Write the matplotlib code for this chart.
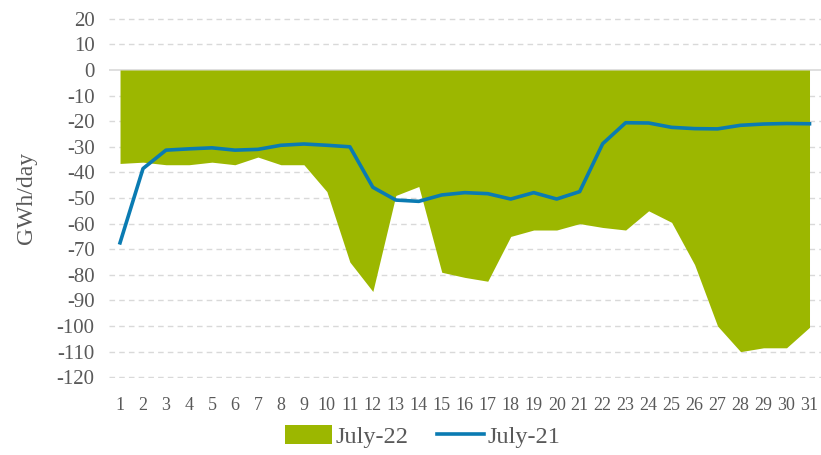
import numpy as np
import matplotlib.pyplot as plt
from matplotlib.patches import Patch
from matplotlib.lines import Line2D

# --- Data (GWh/day) ---
days = list(range(1, 32))
july22 = [-36.5, -36, -37, -37, -36, -37, -34, -37, -37, -47.5,
          -75, -86.5, -49, -45.5, -79, -81, -82.5, -65, -62.5, -62.5,
          -60, -61.5, -62.5, -55, -59.5, -76, -100, -110, -108.5, -108.5,
          -100.5]
july21 = [-67.5, -38.5, -31.3, -30.8, -30.4, -31.3, -31, -29.4, -28.9, -29.4,
          -30, -45.8, -50.8, -51.3, -48.8, -47.9, -48.3, -50.4, -47.9, -50.4,
          -47.5, -28.8, -20.6, -20.7, -22.4, -22.9, -23, -21.6, -21.1, -20.9,
          -21]
yticks = list(range(-120, 30, 10))

green = '#9cb700'
blue = '#0a7bb2'
grey = '#595959'

plt.rcParams['font.family'] = ['Liberation Serif', 'DejaVu Serif']
plt.rcParams['axes.unicode_minus'] = False

fig = plt.figure(figsize=(8.21, 4.55), dpi=100)
ax = fig.add_axes([0.1322, 0.1692, 0.8678, 0.7912])

ax.fill_between(days, july22, 0, color=green, linewidth=0, zorder=2)
ax.plot(days, july21, color=blue, linewidth=2.6, zorder=3)

# grid and zero line
for y in yticks:
    if y == 0:
        continue
    ax.axhline(y, color='#d9d9d9', linestyle=(0, (4, 3)), linewidth=1, zorder=1)
ax.axhline(0, color='#d9d9d9', linewidth=1.2, zorder=1)

ax.set_xlim(0.5, 31.5)
ax.set_ylim(-120.3, 20.3)
ax.set_xticks(days)
ax.set_yticks(yticks)
ax.tick_params(axis='both', length=0, colors=grey)
ax.tick_params(axis='x', labelsize=13, pad=14)
ax.tick_params(axis='y', labelsize=15, pad=10)
for s in ax.spines.values():
    s.set_visible(False)

ax.set_ylabel('GWh/day', fontsize=17, color=grey, labelpad=14)

handles = [Patch(facecolor=green, edgecolor='none'),
           Line2D([0], [0], color=blue, linewidth=2.6)]
fig.legend(handles, ['July-22', 'July-21'], loc='center', bbox_to_anchor=(0.515, 0.04),
           ncol=2, frameon=False, fontsize=17.5, labelcolor=grey,
           handlelength=1.9, handleheight=0.8, handletextpad=0.15, columnspacing=1.2)

fig.savefig('out.png', dpi=100)
